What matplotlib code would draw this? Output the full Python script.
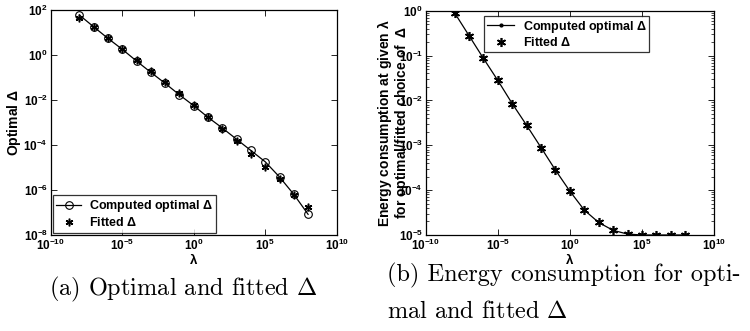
import numpy as np
import matplotlib.pyplot as plt
from matplotlib.ticker import LogLocator, NullLocator, NullFormatter

plt.rcParams['font.family'] = ['Liberation Sans', 'DejaVu Sans']
plt.rcParams['font.weight'] = 'bold'
plt.rcParams['axes.labelweight'] = 'bold'
plt.rcParams['mathtext.fontset'] = 'custom'
plt.rcParams['mathtext.bf'] = 'Liberation Sans:bold'
plt.rcParams['mathtext.rm'] = 'Liberation Sans:bold'

lam = [1e-8, 1e-7, 1e-6, 1e-5, 1e-4, 1e-3, 1e-2, 1e-1, 1e0,
       1e1, 1e2, 1e3, 1e4, 1e5, 1e6, 1e7, 1e8]

# (a) optimal delta
delta_opt = [60, 18, 5.5, 1.8, 0.54, 0.17, 0.055, 0.017, 0.0056,
             0.0017, 5.7e-4, 1.8e-4, 5.7e-5, 1.8e-5, 3.8e-6, 6.4e-7, 8.3e-8]
delta_fit = [46, 17, 5.5, 1.8, 0.6, 0.19, 0.06, 0.02, 0.006,
             0.0017, 5.3e-4, 1.5e-4, 4e-5, 1.1e-5, 3e-6, 6.3e-7, 1.7e-7]

# (b) energy consumption
energy_opt = [0.9, 0.28, 0.087, 0.028, 0.0085, 0.0028, 8.9e-4, 2.8e-4, 9.5e-5,
              3.6e-5, 1.9e-5, 1.27e-5, 1.05e-5, 1.0e-5, 1.0e-5, 1.0e-5, 1.0e-5]
energy_fit = [0.9, 0.28, 0.087, 0.028, 0.0085, 0.0028, 8.9e-4, 2.8e-4, 9.5e-5,
              3.6e-5, 1.9e-5, 1.27e-5, 1.05e-5, 1.0e-5, 1.0e-5, 1.0e-5, 1.0e-5]

fig = plt.figure(figsize=(7.5, 3.31), dpi=100)
W, H = 750, 331
ax1 = fig.add_axes([50.7 / W, 1 - 235 / H, 286 / W, 225 / H])
ax2 = fig.add_axes([425.7 / W, 1 - 235 / H, 288.3 / W, 224.3 / H])

asterisk = (6, 2, 0)

def style(ax):
    ax.set_xscale('log')
    ax.set_yscale('log')
    ax.tick_params(which='both', direction='in', top=True, right=True,
                   labelsize=8.5, pad=2)
    ax.tick_params(which='major', length=4, width=0.6)
    ax.tick_params(which='minor', length=2, width=0.5)
    for s in ax.spines.values():
        s.set_linewidth(0.9)
    ax.set_xlim(1e-10, 1e10)
    ax.set_xticks([1e-10, 1e-5, 1e0, 1e5, 1e10])
    ax.xaxis.set_minor_locator(NullLocator())
    ax.set_xlabel(r'$\mathbf{\lambda}$', fontsize=9.5, labelpad=-1)

style(ax1)
ax1.plot(lam, delta_opt, '-o', color='black', lw=0.9, ms=5.5,
         mfc='none', mew=0.8, label=r'Computed optimal $\mathbf{\Delta}$')
ax1.plot(lam, delta_fit, marker=asterisk, ls='none', color='black', ms=5.5,
         mew=1.1, label=r'Fitted $\mathbf{\Delta}$')
ax1.set_ylim(1e-8, 1e2)
ax1.set_yticks([1e-8, 1e-6, 1e-4, 1e-2, 1e0, 1e2])
ax1.yaxis.set_minor_locator(NullLocator())
ax1.set_ylabel(r'Optimal $\mathbf{\Delta}$', fontsize=10, labelpad=0)
leg1 = ax1.legend(loc='lower left', fontsize=9, frameon=True, fancybox=False,
                  edgecolor='black', borderaxespad=0.2, handlelength=2.0,
                  borderpad=0.25, labelspacing=0.15, handletextpad=0.6)
leg1.get_frame().set_linewidth(0.9)

style(ax2)
ax2.plot(lam, energy_opt, '.-', color='black', lw=0.9, ms=4,
         label=r'Computed optimal $\mathbf{\Delta}$')
ax2.plot(lam, energy_fit, marker=asterisk, ls='none', color='black', ms=6.5,
         mew=1.2, label=r'Fitted $\mathbf{\Delta}$')
ax2.set_ylim(1e-5, 1e0)
ax2.set_yticks([1e-5, 1e-4, 1e-3, 1e-2, 1e-1, 1e0])
ax2.yaxis.set_minor_locator(LogLocator(base=10, subs=np.arange(2, 10)))
ax2.yaxis.set_minor_formatter(NullFormatter())
ax2.set_ylabel('Energy consumption at given $\\mathbf{\\lambda}$\n'
               'for optimal/fitted choice of  $\\mathbf{\\Delta}$',
               fontsize=10, labelpad=-9, linespacing=0.9)
leg2 = ax2.legend(loc='upper center', bbox_to_anchor=(0.49, 0.975), fontsize=9,
                  frameon=True, fancybox=False, edgecolor='black',
                  borderaxespad=0.0, handlelength=2.2, borderpad=0.2,
                  labelspacing=0.1, handletextpad=0.7)
leg2.get_frame().set_linewidth(0.9)

cap_kw = dict(fontsize=17.5, family='cmr10', fontweight='normal',
              math_fontfamily='cm')
fig.text(183 / W, 1 - 289 / H, r'(a) Optimal and fitted $\mathit{\Delta}$',
         ha='center', va='center', **cap_kw)
fig.text(387 / W, 1 - 275 / H, '(b) Energy consumption for opti-',
         ha='left', va='center', **cap_kw)
fig.text(387 / W, 1 - 312 / H, r'mal and fitted $\mathit{\Delta}$',
         ha='left', va='center', **cap_kw)

fig.savefig('out.png', dpi=100)
